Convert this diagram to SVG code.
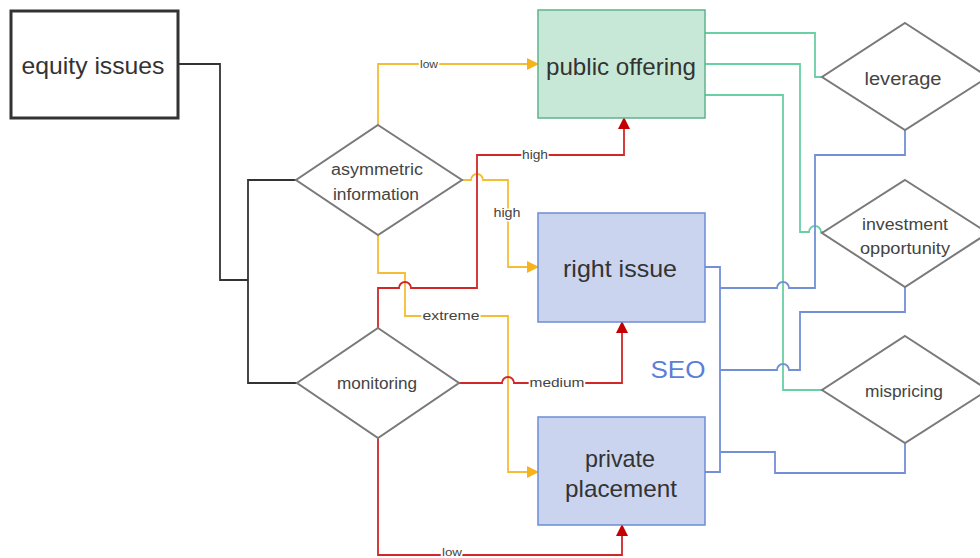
<svg xmlns="http://www.w3.org/2000/svg" width="980" height="558" viewBox="0 0 980 558">
<style>
.t{font-family:"Liberation Sans",Arial,sans-serif;fill:#333;text-anchor:middle}
.big{font-size:24px}
.dia{font-size:16px;fill:#444}
.lbl{font-size:13px;fill:#444;stroke:#fff;stroke-width:3;paint-order:stroke;text-anchor:middle;font-family:"Liberation Sans",Arial,sans-serif}
.c{fill:none;stroke-width:1.8}
.k{stroke:#333}
.y{stroke:#f5bd35}
.r{stroke:#d02828}
.g{stroke:#69cfa4}
.b{stroke:#7290d6}
.d{fill:#fff;stroke:#7a7a7a;stroke-width:2}
</style>
<defs>
<marker id="ay" markerUnits="userSpaceOnUse" markerWidth="14" markerHeight="14" refX="12" refY="7" orient="auto"><path d="M1,1 L13,7 L1,13 Z" fill="#f6b31c"/></marker>
<marker id="ar" markerUnits="userSpaceOnUse" markerWidth="14" markerHeight="14" refX="12" refY="7" orient="auto"><path d="M1,1 L13,7 L1,13 Z" fill="#c40000"/></marker>
</defs>
<rect width="980" height="558" fill="#fff"/>
<g id="connectors">
<path class="c k" d="M178,64 H220 V280 H248"/>
<path class="c k" d="M297,180 H248 V383 H297"/>
<path class="c y" d="M378,125 V64 H538" marker-end="url(#ay)"/>
<path class="c y" d="M462,180 H471 A6,6 0 0 1 483,180 H508 V267 H538" marker-end="url(#ay)"/>
<path class="c y" d="M378,235 V273 H405 V316 H508 V472 H538" marker-end="url(#ay)"/>
<path class="c r" d="M378,328 V288 H399 A6,6 0 0 1 411,288 H477 V155 H624 V118" marker-end="url(#ar)"/>
<path class="c r" d="M459,383 H502 A6,6 0 0 1 514,383 H622 V322" marker-end="url(#ar)"/>
<path class="c r" d="M378,438 V555 H622 V525" marker-end="url(#ar)"/>
<path class="c g" d="M705,33 H815 V77 H822"/>
<path class="c g" d="M705,64 H800 V232 H809 A6,6 0 0 1 821,232 H823"/>
<path class="c g" d="M705,95 H783 V390 H822"/>
<path class="c b" d="M705,267 H720 V472 H705"/>
<path class="c b" d="M720,288 H777 A6,6 0 0 1 789,288 H815 V155 H905 V130"/>
<path class="c b" d="M720,370 H777 A6,6 0 0 1 789,370 H800 V312 H905 V287"/>
<path class="c b" d="M720,452 H775 V473 H905 V443"/>
<text class="lbl" x="429" y="68" style="font-size:10px" textLength="18" lengthAdjust="spacingAndGlyphs">low</text>
<text class="lbl" x="535" y="159" textLength="26" lengthAdjust="spacingAndGlyphs">high</text>
<text class="lbl" x="507" y="217" textLength="27" lengthAdjust="spacingAndGlyphs">high</text>
<text class="lbl" x="451" y="320" textLength="57" lengthAdjust="spacingAndGlyphs">extreme</text>
<text class="lbl" x="557" y="387" textLength="55" lengthAdjust="spacingAndGlyphs">medium</text>
<text class="lbl" x="452" y="556" style="font-size:10px" textLength="20" lengthAdjust="spacingAndGlyphs">low</text>
</g>
<g id="equity-issues">
<rect x="11" y="11" width="167" height="107" fill="#fff" stroke="#333" stroke-width="3"/>
<text class="t big" x="93" y="74" textLength="143" lengthAdjust="spacingAndGlyphs">equity issues</text>
</g>
<g id="public-offering">
<rect x="538" y="10" width="167" height="108" fill="#c8e8d7" stroke="#5fb38e" stroke-width="1.5"/>
<text class="t big" x="621" y="75" textLength="150" lengthAdjust="spacingAndGlyphs">public offering</text>
</g>
<g id="right-issue">
<rect x="538" y="213" width="167" height="109" fill="#cad4ef" stroke="#6c8dd6" stroke-width="1.5"/>
<text class="t big" x="620" y="277" textLength="114" lengthAdjust="spacingAndGlyphs">right issue</text>
</g>
<g id="private-placement">
<rect x="538" y="417" width="167" height="108" fill="#cad4ef" stroke="#6c8dd6" stroke-width="1.5"/>
<text class="t big" x="620" y="467" textLength="70" lengthAdjust="spacingAndGlyphs">private</text>
<text class="t big" x="621" y="497" textLength="112" lengthAdjust="spacingAndGlyphs">placement</text>
</g>
<g id="seo">
<text class="t" x="678" y="378" style="font-size:24px;fill:#5b7fd4" textLength="55" lengthAdjust="spacingAndGlyphs">SEO</text>
</g>
<g id="asymmetric-information">
<polygon class="d" points="378,125 462,180 378,235 296,180"/>
<text class="t dia" x="377" y="175" textLength="92" lengthAdjust="spacingAndGlyphs">asymmetric</text>
<text class="t dia" x="376" y="200" textLength="86" lengthAdjust="spacingAndGlyphs">information</text>
</g>
<g id="monitoring">
<polygon class="d" points="378,328 459,383 378,438 297,383"/>
<text class="t dia" x="377" y="389" textLength="80" lengthAdjust="spacingAndGlyphs">monitoring</text>
</g>
<g id="leverage">
<polygon class="d" points="905,23 988,77 905,130 822,77"/>
<text class="t" x="903" y="85" style="font-size:18px;fill:#444" textLength="77" lengthAdjust="spacingAndGlyphs">leverage</text>
</g>
<g id="investment-opportunity">
<polygon class="d" points="905,180 988,233 905,287 822,233"/>
<text class="t dia" x="905" y="230" textLength="86" lengthAdjust="spacingAndGlyphs">investment</text>
<text class="t dia" x="905" y="254" textLength="90" lengthAdjust="spacingAndGlyphs">opportunity</text>
</g>
<g id="mispricing">
<polygon class="d" points="905,336 988,390 905,443 822,390"/>
<text class="t" x="904" y="397" style="font-size:17px;fill:#444" textLength="78" lengthAdjust="spacingAndGlyphs">mispricing</text>
</g>
</svg>
